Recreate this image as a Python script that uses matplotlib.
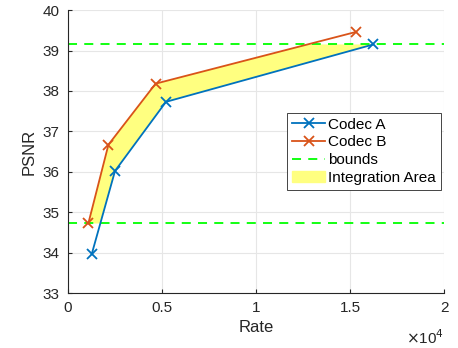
import numpy as np
import matplotlib.pyplot as plt

plt.rcParams['font.family'] = ['Liberation Sans', 'DejaVu Sans']

# Rate / PSNR points
rate_a = [1260, 2500, 5210, 16240]
psnr_a = [33.96, 36.02, 37.73, 39.15]
rate_b = [1080, 2150, 4660, 15320]
psnr_b = [34.72, 36.67, 38.18, 39.46]

x_ticks = [0, 5000, 10000, 15000, 20000]
y_ticks = [33, 34, 35, 36, 37, 38, 39, 40]

# integration bounds: overlap of the two PSNR ranges
lo = max(min(psnr_a), min(psnr_b))
hi = min(max(psnr_a), max(psnr_b))

blue = '#0072BD'
orange = '#D95319'
grey = '#262626'

fig = plt.figure(figsize=(4.58, 3.48), dpi=100)
ax = fig.add_axes([0.1485, 0.158, 0.821, 0.813])

# polygon between the curves inside the bounds
ya = np.concatenate([[lo], [p for p in psnr_a if lo < p < hi], [hi]])
xa = np.interp(ya, psnr_a, rate_a)
yb = np.concatenate([[lo], [p for p in psnr_b if lo < p < hi], [hi]])
xb = np.interp(yb, psnr_b, rate_b)
ax.fill(np.concatenate([xa, xb[::-1]]), np.concatenate([ya, yb[::-1]]),
        color='#FFFF80', edgecolor='none', zorder=1)

la, = ax.plot(rate_a, psnr_a, '-x', color=blue, lw=1.3, ms=7, mew=1.3, zorder=3)
lb, = ax.plot(rate_b, psnr_b, '-x', color=orange, lw=1.3, ms=7, mew=1.3, zorder=3)
lg = ax.axhline(lo, color='#00FF00', ls='--', lw=1.3, dashes=(5, 4), zorder=2)
ax.axhline(hi, color='#00FF00', ls='--', lw=1.3, dashes=(5, 4), zorder=2)
fill_proxy = plt.Rectangle((0, 0), 1, 1, color='#FFFF80')

ax.set_xlim(0, 20000)
ax.set_ylim(33, 40)
ax.set_xticks(x_ticks)
ax.set_xticklabels([f'{t / 1e4:g}' for t in x_ticks])
ax.set_yticks(y_ticks)
ax.grid(True, color='#E6E6E6', lw=0.8, zorder=0)
ax.set_axisbelow(True)
for s in ['top', 'right']:
    ax.spines[s].set_visible(False)
for s in ['left', 'bottom']:
    ax.spines[s].set_color(grey)
    ax.spines[s].set_linewidth(0.8)
ax.tick_params(direction='in', length=3, colors=grey, labelsize=11, pad=6)
ax.set_xlabel('Rate', fontsize=12, color=grey, labelpad=3)
ax.set_ylabel('PSNR', fontsize=12, color=grey, labelpad=4)
ax.text(1.0, -0.125, r'$\times$10$^4$', transform=ax.transAxes, ha='right',
        va='top', fontsize=11, color=grey)

leg = ax.legend([la, lb, lg, fill_proxy],
                ['Codec A', 'Codec B', 'bounds', 'Integration Area'],
                loc='upper left', bbox_to_anchor=(0.583, 0.636), fontsize=11,
                frameon=True, fancybox=False, framealpha=1, edgecolor=grey,
                handlelength=2.2, handletextpad=0.2, borderpad=0.3,
                labelspacing=0.25, borderaxespad=0)
leg.get_frame().set_linewidth(0.6)

fig.savefig('out.png', dpi=100)
